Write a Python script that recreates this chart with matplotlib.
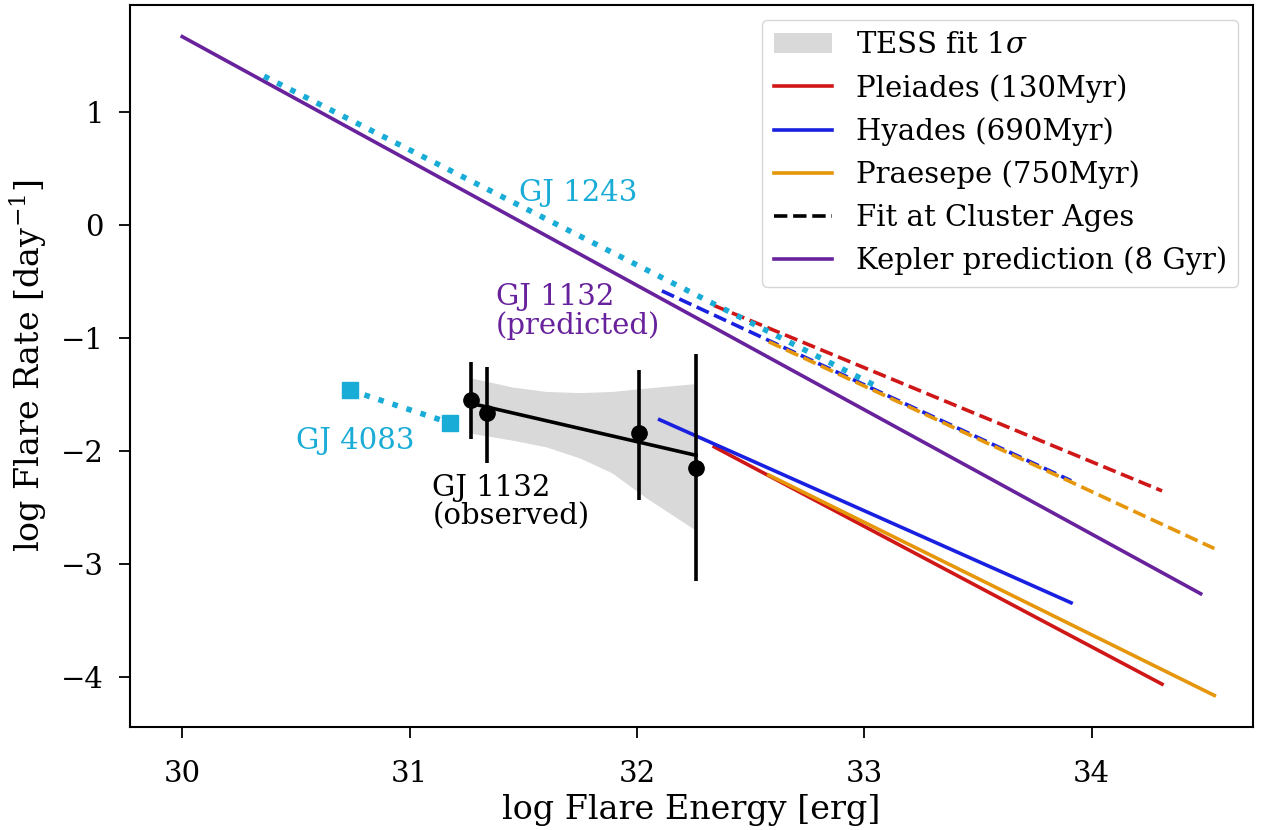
import numpy as np
import matplotlib
matplotlib.use("Agg")
import matplotlib.pyplot as plt

plt.rcParams["font.family"] = "DejaVu Serif"
plt.rcParams["mathtext.fontset"] = "dejavuserif"

# ------------------------------------------------------------
# Dados
# ------------------------------------------------------------
# Kepler prediction (8 Gyr)
kepler_x = [30.0, 34.48]
kepler_y = [1.67, -3.26]

# GJ 1243 (pontilhado)
gj1243_x = [30.36, 33.05]
gj1243_y = [1.32, -1.42]

# GJ 4083
gj4083_x = [30.74, 31.18]
gj4083_y = [-1.46, -1.75]

# GJ 1132 observado
obs_x = [31.27, 31.34, 32.01, 32.26]
obs_y = [-1.55, -1.66, -1.84, -2.15]
obs_top = [-1.21, -1.25, -1.28, -1.14]
obs_bot = [-1.89, -2.10, -2.43, -3.15]

# ajuste TESS e faixa 1 sigma
fit_x = [31.27, 32.26]
fit_y = [-1.575, -2.035]
band_x = [31.27, 31.45, 31.60, 31.75, 31.89, 32.04, 32.26]
band_hi = [-1.35, -1.43, -1.47, -1.48, -1.47, -1.44, -1.40]
band_lo = [-1.84, -1.90, -1.96, -2.06, -2.19, -2.41, -2.70]

# aglomerados: linhas observadas
pleiades_x = [32.34, 34.31]
pleiades_y = [-1.96, -4.06]
hyades_x = [32.10, 33.91]
hyades_y = [-1.72, -3.34]
praesepe_x = [32.58, 34.54]
praesepe_y = [-2.21, -4.16]

# aglomerados: ajuste nas idades (tracejado)
pleiades_fit_x = [32.34, 34.31]
pleiades_fit_y = [-0.71, -2.35]
hyades_fit_x = [32.11, 33.91]
hyades_fit_y = [-0.58, -2.26]
praesepe_fit_x = [32.58, 34.54]
praesepe_fit_y = [-1.03, -2.86]

C_RED = "#d01717"
C_BLUE = "#1a20e0"
C_ORANGE = "#e6960a"
C_PURPLE = "#67229c"
C_CYAN = "#18acd6"

fig, ax = plt.subplots(figsize=(12.74, 8.3), dpi=100)
fig.subplots_adjust(left=0.102, right=0.9835, top=0.994, bottom=0.124)

ax.fill_between(band_x, band_lo, band_hi, color="#d9d9d9", lw=0,
                label=r"TESS fit 1$\sigma$")

ax.plot(pleiades_x, pleiades_y, color=C_RED, lw=2.6, label="Pleiades (130Myr)")
ax.plot(hyades_x, hyades_y, color=C_BLUE, lw=2.6, label="Hyades (690Myr)")
ax.plot(praesepe_x, praesepe_y, color=C_ORANGE, lw=2.6, label="Praesepe (750Myr)")

ax.plot(pleiades_fit_x, pleiades_fit_y, color=C_RED, lw=2.6, ls="--")
ax.plot(hyades_fit_x, hyades_fit_y, color=C_BLUE, lw=2.6, ls="--")
ax.plot(praesepe_fit_x, praesepe_fit_y, color=C_ORANGE, lw=2.6, ls="--")
ax.plot([], [], color="black", lw=2.6, ls="--", label="Fit at Cluster Ages")

ax.plot(kepler_x, kepler_y, color=C_PURPLE, lw=2.6, label="Kepler prediction (8 Gyr)")

ax.plot(gj1243_x, gj1243_y, color=C_CYAN, lw=4, ls=":")
ax.plot(gj4083_x, gj4083_y, color=C_CYAN, lw=4, ls=":", marker="s", ms=12)

# GJ 1132 observado
ax.plot(fit_x, fit_y, color="black", lw=2.6)
yerr = [np.array(obs_y) - np.array(obs_bot), np.array(obs_top) - np.array(obs_y)]
ax.errorbar(obs_x, obs_y, yerr=yerr, fmt="o", color="black", ms=11,
            elinewidth=2.6, capsize=0)

# textos
ax.text(31.48, 0.29, "GJ 1243", color=C_CYAN, fontsize=21, va="center")
ax.text(31.38, -0.76, "GJ 1132\n(predicted)", color=C_PURPLE, fontsize=21,
        va="center", linespacing=1.0)
ax.text(30.5, -1.91, "GJ 4083", color=C_CYAN, fontsize=21, va="center")
ax.text(31.1, -2.45, "GJ 1132\n(observed)", color="black", fontsize=21,
        va="center", linespacing=1.0)

ax.set_xlim(29.77, 34.71)
ax.set_ylim(-4.44, 1.95)
ax.set_xticks([30, 31, 32, 33, 34])
ax.set_yticks([1, 0, -1, -2, -3, -4])
ax.tick_params(labelsize=21, length=8, width=1.3)
ax.tick_params(axis="x", pad=16)
ax.tick_params(axis="y", pad=11)
for s in ax.spines.values():
    s.set_linewidth(1.5)

ax.set_xlabel("log Flare Energy [erg]", fontsize=24)
ax.set_ylabel(r"log Flare Rate [day$^{-1}$]", fontsize=24, labelpad=8)

ax.legend(loc="upper right", fontsize=21, handlelength=2.0)

plt.savefig("out.png", dpi=100)
plt.close()
